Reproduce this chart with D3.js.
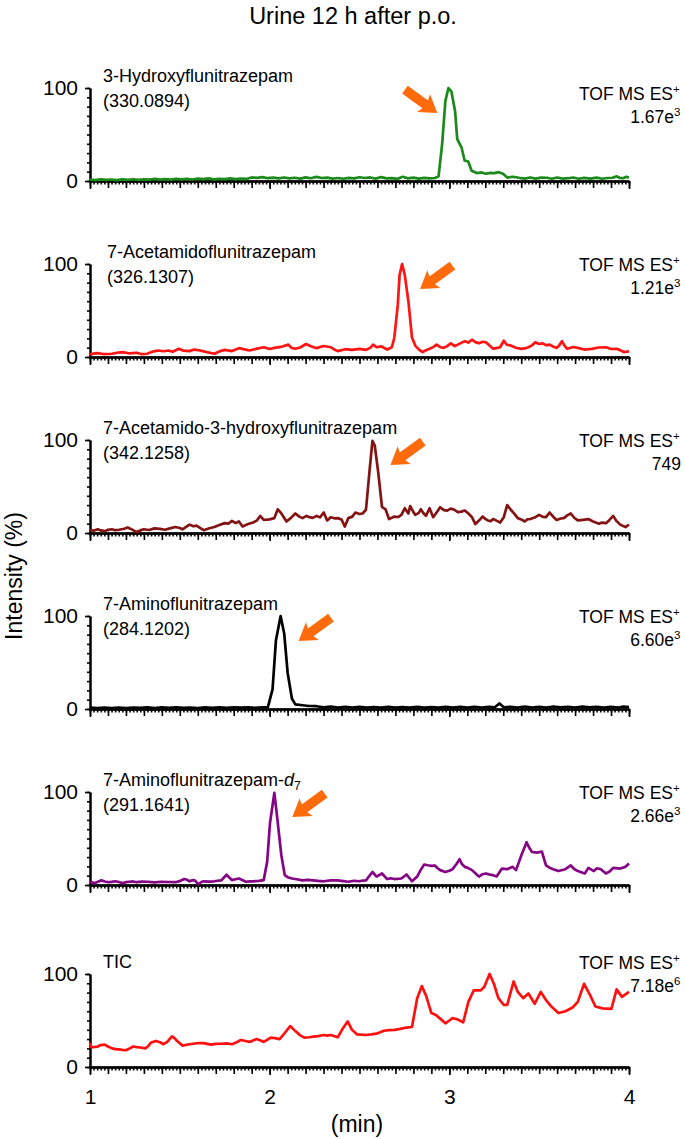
<!DOCTYPE html>
<html><head><meta charset="utf-8">
<script src="https://cdn.jsdelivr.net/npm/d3@7"></script>
<style>body{margin:0;background:#fff} svg{display:block} text{font-family:"Liberation Sans", Arial, sans-serif;fill:#000}</style>
</head><body>
<svg id="c" width="685" height="1139"></svg>
<script>
// ---------- data ----------
const chartTitle = "Urine 12 h after p.o.";
const compoundNames = ["3-Hydroxyflunitrazepam","7-Acetamidoflunitrazepam","7-Acetamido-3-hydroxyflunitrazepam","7-Aminoflunitrazepam","7-Aminoflunitrazepam-","TIC"];
const massLabels = ["(330.0894)","(326.1307)","(342.1258)","(284.1202)","(291.1641)",""];
const scaleMantissa = ["1.67e","1.21e","749","6.60e","2.66e","7.18e"];
const scaleExponent = ["3","3","","3","3","6"];
const lineColors = ["#1b8a1b","#ff1414","#841414","#000000","#850585","#ff1010"];
const arrowPeakTimes = [3.0, 2.737, 2.572, 2.061, 2.026, null];
const arrowSides = ["left","right","right","right","right",null];
const xTickLabels = [1,2,3,4];
const yTickLabels = [0,100];

const hydroxyData = [[1.00,1.5],[1.03,1.0],[1.06,1.8],[1.09,1.2],[1.12,1.6],[1.15,1.0],[1.18,1.8],[1.21,1.3],[1.24,1.9],[1.27,1.2],[1.30,1.7],[1.33,1.4],[1.36,2.2],[1.39,1.5],[1.42,2.0],[1.45,1.4],[1.48,2.4],[1.51,1.7],[1.54,2.2],[1.57,1.6],[1.60,2.5],[1.63,2.0],[1.66,2.8],[1.69,1.8],[1.72,2.4],[1.75,2.0],[1.78,2.9],[1.81,2.1],[1.84,2.6],[1.87,2.2],[1.90,3.8],[1.93,3.4],[1.96,4.2],[1.99,3.0],[2.02,3.6],[2.05,2.8],[2.08,3.8],[2.11,2.9],[2.14,3.5],[2.17,2.6],[2.20,3.9],[2.23,3.0],[2.26,4.4],[2.29,3.2],[2.32,3.6],[2.35,2.6],[2.38,3.2],[2.41,2.4],[2.44,3.4],[2.47,2.8],[2.50,4.0],[2.53,3.2],[2.56,3.8],[2.59,2.6],[2.62,4.2],[2.65,2.8],[2.68,3.0],[2.71,2.2],[2.74,4.5],[2.77,2.8],[2.80,3.6],[2.83,2.6],[2.86,3.4],[2.89,2.8],[2.92,3.2],[2.94,5],[2.96,40],[2.978,86],[2.995,100],[3.012,96],[3.032,75],[3.044,45],[3.068,36],[3.085,22],[3.105,21],[3.124,11],[3.153,8.5],[3.18,9.2],[3.202,7.8],[3.23,8.8],[3.251,8.5],[3.275,9.5],[3.299,7.8],[3.324,3.5],[3.35,4.6],[3.372,4],[3.40,3.0],[3.421,2.5],[3.45,3.8],[3.48,2.6],[3.51,3.6],[3.543,3.5],[3.57,2.4],[3.60,3.8],[3.63,2.6],[3.664,3],[3.69,3.8],[3.72,2.4],[3.75,3.4],[3.786,2.5],[3.82,3.6],[3.85,2.4],[3.88,3.2],[3.908,3.5],[3.932,5],[3.95,3.2],[3.968,3],[3.985,4.5],[4.0,3.5]];

const acetamidoData = [[1.00,2.8],[1.02,3.6],[1.043,4.2],[1.08,3.0],[1.122,3.5],[1.15,4.6],[1.181,5.3],[1.22,3.8],[1.259,4.6],[1.29,3.0],[1.318,3.5],[1.35,5.8],[1.377,7],[1.41,6.2],[1.436,7],[1.46,5.6],[1.495,8.8],[1.52,6.8],[1.554,6.3],[1.58,8.0],[1.613,7],[1.65,5.2],[1.692,3.5],[1.72,6.0],[1.750,7.7],[1.79,6.4],[1.829,9.5],[1.86,8.2],[1.888,7],[1.93,9.0],[1.967,10.5],[2.00,8.6],[2.026,9.8],[2.07,11.2],[2.104,13.3],[2.12,10.0],[2.143,8.8],[2.17,10.2],[2.202,14],[2.23,11.5],[2.261,9.5],[2.30,11.8],[2.340,10.5],[2.36,8.0],[2.379,6.3],[2.42,8.4],[2.458,7.7],[2.50,8.8],[2.536,7.7],[2.56,9.8],[2.576,13.3],[2.595,10.5],[2.62,11.5],[2.654,8],[2.68,10.5],[2.694,21],[2.713,56],[2.723,88],[2.737,100],[2.752,88],[2.772,60],[2.792,21],[2.811,12],[2.83,8.2],[2.851,5.3],[2.87,7.2],[2.890,8.8],[2.91,10.6],[2.929,13.3],[2.95,10.5],[2.969,9.8],[2.99,12.0],[3.008,14.7],[3.03,11.8],[3.047,13.3],[3.066,15.2],[3.086,17],[3.105,15.5],[3.126,18.6],[3.145,16.0],[3.165,14.7],[3.185,16.4],[3.204,15.8],[3.225,12.0],[3.244,8.8],[3.26,9.6],[3.283,10.5],[3.303,17.5],[3.32,13.2],[3.342,12.3],[3.37,10.0],[3.401,8.8],[3.42,9.2],[3.440,10.5],[3.46,12.5],[3.479,15.8],[3.50,14.0],[3.519,14.7],[3.54,12.6],[3.558,13.3],[3.58,11.0],[3.597,9.8],[3.61,12.0],[3.627,17],[3.64,12.5],[3.656,8.8],[3.69,10.8],[3.715,9.8],[3.75,8.0],[3.794,8.8],[3.83,10.2],[3.872,10.5],[3.90,8.6],[3.931,8.8],[3.95,7.4],[3.971,5.3],[4.00,6]];

const acetamidoHydroxyData = [[1.000,3.5],[1.02,2.4],[1.043,4],[1.06,2.8],[1.083,2],[1.10,3.4],[1.122,4],[1.14,3.0],[1.161,3.5],[1.19,4.6],[1.210,6],[1.235,3.6],[1.259,1],[1.28,2.8],[1.299,4],[1.33,3.2],[1.358,5],[1.39,4.4],[1.417,3.5],[1.45,5.2],[1.475,6.4],[1.50,5.4],[1.515,4],[1.535,6.5],[1.554,9],[1.575,7.2],[1.593,8],[1.612,5.6],[1.633,3],[1.66,4.8],[1.692,6.4],[1.72,8.6],[1.750,10.6],[1.77,10.0],[1.790,13],[1.81,10.8],[1.829,12.4],[1.849,7],[1.88,9.6],[1.908,11.3],[1.93,13.6],[1.947,18.4],[1.967,14],[2.00,14.6],[2.026,16],[2.045,25.5],[2.065,21],[2.094,12.4],[2.12,16.5],[2.143,21],[2.165,17.6],[2.183,16],[2.205,18.4],[2.222,17],[2.24,16.2],[2.261,18.4],[2.28,16.8],[2.301,22],[2.320,13.5],[2.340,17],[2.36,15.8],[2.379,16],[2.40,14.5],[2.418,7],[2.438,16],[2.46,17.6],[2.477,22],[2.50,20.4],[2.517,21],[2.536,25],[2.556,67],[2.572,99],[2.585,94],[2.605,64],[2.625,28],[2.645,25.5],[2.664,15],[2.68,16.4],[2.694,17.7],[2.715,17.2],[2.733,19.5],[2.752,26.6],[2.772,21],[2.782,29],[2.80,22.4],[2.811,19.5],[2.83,21.6],[2.841,25.5],[2.856,21.2],[2.870,18.4],[2.890,26.6],[2.910,17],[2.93,22.4],[2.949,27.7],[2.97,24.6],[2.988,24],[3.008,26.2],[3.028,25],[3.047,22.4],[3.067,23],[3.086,24.2],[3.106,21],[3.126,17],[3.145,9.6],[3.165,13.4],[3.185,17.7],[3.20,15.2],[3.214,13.5],[3.23,12.6],[3.244,15],[3.265,13.0],[3.283,11.3],[3.303,17],[3.322,30],[3.342,25],[3.36,21.0],[3.381,16],[3.40,14.6],[3.420,12.4],[3.435,14.8],[3.450,15],[3.475,16.6],[3.499,19.5],[3.52,17.4],[3.538,17],[3.558,22],[3.58,17.2],[3.597,14],[3.62,15.6],[3.637,16],[3.656,19.0],[3.676,21],[3.695,16.4],[3.715,13.5],[3.745,14.2],[3.774,15],[3.80,12.4],[3.833,10],[3.85,11.2],[3.872,10.6],[3.89,13.8],[3.912,18.4],[3.93,13.0],[3.951,9],[3.980,6.4],[4.000,9]];

const aminoData = [[1.00,1.5],[1.04,1.0],[1.08,1.6],[1.12,1.1],[1.16,1.5],[1.20,1.0],[1.24,1.6],[1.28,1.2],[1.32,1.7],[1.36,1.1],[1.40,1.8],[1.44,1.3],[1.48,1.9],[1.52,1.2],[1.56,1.6],[1.60,1.1],[1.64,1.8],[1.68,1.3],[1.72,1.7],[1.76,1.2],[1.80,1.9],[1.84,1.4],[1.88,1.8],[1.92,1.3],[1.96,1.9],[1.99,2.0],[2.016,21],[2.035,74],[2.061,100],[2.081,81],[2.100,39],[2.124,11],[2.143,5],[2.183,4],[2.22,3.2],[2.261,3],[2.30,1.8],[2.34,2.6],[2.38,1.5],[2.42,2.4],[2.46,1.6],[2.50,2.2],[2.54,1.4],[2.58,2.0],[2.62,1.5],[2.66,2.3],[2.70,1.6],[2.74,2.1],[2.78,1.4],[2.82,2.2],[2.86,1.5],[2.90,2.0],[2.94,1.4],[2.98,2.3],[3.02,1.6],[3.06,2.2],[3.10,1.5],[3.14,2.4],[3.18,1.6],[3.22,2.2],[3.253,1.8],[3.279,6],[3.303,1.8],[3.34,2.4],[3.38,1.5],[3.42,2.6],[3.46,1.6],[3.50,2.4],[3.54,1.5],[3.58,2.6],[3.62,1.7],[3.66,2.4],[3.70,1.6],[3.74,2.5],[3.78,1.7],[3.82,2.4],[3.86,1.5],[3.90,2.2],[3.94,1.6],[3.97,2.6],[4.00,2.0]];

const aminoD7Data = [[1.000,3.5],[1.024,2],[1.045,3.6],[1.063,5],[1.083,3.8],[1.102,3],[1.12,3.4],[1.141,4],[1.16,3.2],[1.181,2],[1.20,3.0],[1.220,3.5],[1.24,3.8],[1.259,3],[1.29,3.6],[1.318,3.5],[1.36,2.8],[1.397,3.5],[1.44,3.2],[1.475,3],[1.50,4.2],[1.525,6.4],[1.54,5.6],[1.554,4],[1.57,5.2],[1.583,5],[1.603,0.8],[1.62,3.2],[1.633,4],[1.66,3.6],[1.692,4],[1.71,4.6],[1.731,5],[1.760,11],[1.775,8.0],[1.790,5.3],[1.81,6.2],[1.829,7],[1.85,5.2],[1.868,3.5],[1.89,3.8],[1.908,4],[1.94,4.4],[1.967,5.3],[1.986,25],[2.002,67],[2.026,99],[2.041,74],[2.065,32],[2.084,10.6],[2.10,8.4],[2.124,7],[2.15,6.2],[2.183,5],[2.21,5.6],[2.242,5],[2.27,4.4],[2.301,4],[2.34,5.0],[2.379,5],[2.41,4.2],[2.438,3.5],[2.47,4.6],[2.497,4],[2.52,4.8],[2.536,5],[2.572,14],[2.595,9],[2.625,12.4],[2.654,6.4],[2.675,7.2],[2.694,6.4],[2.733,7],[2.762,11.3],[2.792,4],[2.821,9],[2.840,16],[2.860,22],[2.880,21.2],[2.900,20.6],[2.919,21],[2.935,18.0],[2.949,16],[2.978,14],[3.00,15.4],[3.018,17],[3.040,22.6],[3.057,27.7],[3.070,22.6],[3.086,19.5],[3.105,18.2],[3.126,16],[3.145,12.6],[3.165,9],[3.185,11.6],[3.204,12.4],[3.225,11.2],[3.244,10.6],[3.263,9.2],[3.293,17.7],[3.322,17],[3.340,18.6],[3.352,19.5],[3.371,16],[3.401,32],[3.430,46],[3.445,40],[3.460,35.5],[3.489,34.8],[3.515,36],[3.538,21],[3.558,18.6],[3.578,17],[3.607,15],[3.646,17],[3.676,21],[3.695,17.2],[3.715,15],[3.754,12.4],[3.774,18.4],[3.804,15],[3.822,18],[3.843,17],[3.872,12.4],[3.895,15],[3.912,18.4],[3.951,17.7],[3.980,19.5],[4.000,23]];

const ticData = [[1.000,26],[1.008,21],[1.025,21.5],[1.043,22],[1.06,23.6],[1.083,24],[1.10,22.0],[1.122,20],[1.14,19.2],[1.161,19],[1.18,18.4],[1.200,18],[1.22,19.8],[1.240,22],[1.26,21.4],[1.279,21],[1.308,20],[1.325,22.6],[1.338,26],[1.367,28],[1.39,26.6],[1.407,24.5],[1.43,27.0],[1.456,33],[1.47,31.0],[1.485,28],[1.515,23],[1.545,24.2],[1.574,25],[1.605,25.8],[1.633,25.6],[1.672,24],[1.70,24.8],[1.731,25],[1.76,25.4],[1.790,24.5],[1.81,26.0],[1.839,29],[1.865,28.0],[1.888,27],[1.927,30],[1.95,28.4],[1.967,27],[2.006,31.6],[2.03,31.0],[2.055,30],[2.085,36.8],[2.114,44],[2.143,38.6],[2.17,34.0],[2.193,31.6],[2.22,32.0],[2.242,32.6],[2.27,33.2],[2.301,34.4],[2.32,33.8],[2.340,34.4],[2.379,32],[2.409,42],[2.434,49],[2.458,40],[2.487,35],[2.51,34.8],[2.536,34.4],[2.565,35.0],[2.595,35.8],[2.635,39],[2.665,39.6],[2.694,40],[2.72,40.8],[2.752,42],[2.792,43],[2.821,74],[2.847,87],[2.870,77],[2.900,58],[2.925,56],[2.949,52],[2.978,47],[3.00,50.0],[3.018,52.6],[3.047,51],[3.077,48],[3.106,70],[3.136,82.5],[3.175,82.5],[3.194,86],[3.224,100],[3.248,89.5],[3.273,74],[3.303,66.7],[3.322,66.7],[3.342,80.7],[3.358,92],[3.381,80.7],[3.411,74],[3.440,79],[3.475,68],[3.509,80.7],[3.538,72],[3.568,65],[3.607,58],[3.646,60],[3.686,64],[3.715,70],[3.750,89.5],[3.784,77],[3.813,65],[3.853,63],[3.902,62.5],[3.931,83.5],[3.961,75.4],[3.980,78],[4.000,80.7]];

const seriesData = [hydroxyData, acetamidoData, acetamidoHydroxyData, aminoData, aminoD7Data, ticData];

// ---------- layout ----------
const svg = d3.select("#c");
const panelTop = [88,264,440,616,792,974];
const panelH = 93;
const nameX = [103,107,103,103,103,103];
const tofOffset = [5,0,0,0,0,-12];
const x = d3.scaleLinear().domain([1,4]).range([90,629]);
const font = '"Liberation Sans", Arial, sans-serif';
const labelSize = 18, tofSize = 17.5, tickSize = 21;

svg.append("text").attr("x",353).attr("y",24).attr("text-anchor","middle")
  .attr("font-size",23.5).text(chartTitle);

svg.append("text").attr("transform","translate(22,576) rotate(-90)")
  .attr("text-anchor","middle").attr("font-size",23).text("Intensity (%)");

const minorT = d3.range(0,151).map(i=>1+i*0.02);
const midT = d3.range(0,31).map(i=>1+i*0.1);

seriesData.forEach((data,i)=>{
  const top = panelTop[i];
  const y = d3.scaleLinear().domain([0,100]).range([top+panelH, top]);
  const g = svg.append("g");
  const last = i===seriesData.length-1;

  // x axis ticks
  const ax1 = g.append("g").attr("transform",`translate(0,${top+panelH})`)
    .call(d3.axisBottom(x).tickValues(minorT).tickSize(3.5).tickSizeOuter(0).tickFormat(""));
  const ax2 = g.append("g").attr("transform",`translate(0,${top+panelH})`)
    .call(d3.axisBottom(x).tickValues(midT).tickSize(7).tickSizeOuter(0).tickFormat(""));
  const ax3 = g.append("g").attr("transform",`translate(0,${top+panelH})`)
    .call(d3.axisBottom(x).tickValues(xTickLabels).tickSize(8).tickSizeOuter(0).tickPadding(14)
      .tickFormat(last? d3.format("d") : ""));
  [ax1,ax2,ax3].forEach(a=>{
    a.select(".domain").attr("stroke","#000").attr("stroke-width",2);
    a.selectAll(".tick line").attr("stroke","#000").attr("stroke-width",1.6);
    a.selectAll("text").attr("font-size",tickSize).attr("font-family",font).attr("fill","#000");
  });

  // y axis
  const ay1 = g.append("g").attr("transform","translate(90,0)")
    .call(d3.axisLeft(y).tickValues(d3.range(0,101,10)).tickSize(3).tickSizeOuter(0).tickFormat(""));
  const ay2 = g.append("g").attr("transform","translate(90,0)")
    .call(d3.axisLeft(y).tickValues(yTickLabels).tickSize(5).tickSizeOuter(0).tickPadding(7).tickFormat(d3.format("d")));
  [ay1,ay2].forEach(a=>{
    a.select(".domain").attr("stroke","#000").attr("stroke-width",2);
    a.selectAll(".tick line").attr("stroke","#000").attr("stroke-width",1.6);
    a.selectAll("text").attr("font-size",tickSize).attr("font-family",font).attr("fill","#000");
  });

  // trace
  g.append("path").datum(data)
    .attr("fill","none").attr("stroke",lineColors[i]).attr("stroke-width",2.7)
    .attr("stroke-linejoin","round")
    .attr("d",d3.line().x(d=>x(d[0])).y(d=>y(d[1])));

  // compound label
  const nm = g.append("text").attr("x",nameX[i]).attr("y",top-6.5).attr("font-size",labelSize).text(compoundNames[i]);
  if(i===4){
    nm.append("tspan").attr("font-style","italic").text("d");
    nm.append("tspan").attr("font-size",12).attr("dy",4).text("7");
  }
  if(massLabels[i]) g.append("text").attr("x",nameX[i]).attr("y",top+18.5).attr("font-size",labelSize).text(massLabels[i]);

  // right labels
  const ty = top + tofOffset[i];
  g.append("text").attr("x",673).attr("y",ty+6.5).attr("text-anchor","end").attr("font-size",tofSize).text("TOF MS ES");
  g.append("text").attr("x",673).attr("y",ty-0.5).attr("font-size",11.5).text("+");
  if(scaleExponent[i]){
    g.append("text").attr("x",674).attr("y",ty+29.5).attr("text-anchor","end").attr("font-size",tofSize).text(scaleMantissa[i]);
    g.append("text").attr("x",674).attr("y",ty+22.5).attr("font-size",11.5).text(scaleExponent[i]);
  } else {
    g.append("text").attr("x",681).attr("y",ty+29.5).attr("text-anchor","end").attr("font-size",tofSize).text(scaleMantissa[i]);
  }

  // arrow
  if(arrowPeakTimes[i]!==null){
    const left = arrowSides[i]==="left";
    const tipX = x(arrowPeakTimes[i]) + (left? -12 : 18);
    const tipY = y(73);
    const ang = left ? 36 : 144;
    const pts = [[0,0],[-17,-11],[-15,-4.8],[-40,-4.8],[-40,4.8],[-15,4.8],[-17,11]];
    g.append("polygon").attr("points",pts.map(p=>p.join(",")).join(" "))
      .attr("fill","#ff6a0a")
      .attr("transform",`translate(${tipX},${tipY}) rotate(${ang})`);
  }
});

svg.append("text").attr("x",357).attr("y",1132).attr("text-anchor","middle").attr("font-size",23).text("(min)");
</script>
</body></html>
